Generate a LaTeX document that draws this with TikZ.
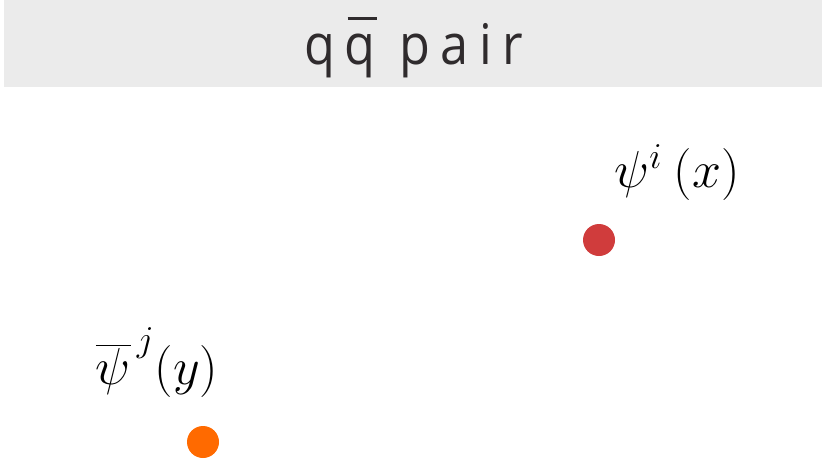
\RequirePackage{fix-cm}
\documentclass[tikz,border=0pt]{standalone}
\usepackage{fontspec}
\usepackage{xcolor}
\usetikzlibrary{positioning}
\newfontfamily\titlefont[FakeStretch=0.90,LetterSpace=19]{Open Sans}
\definecolor{barfill}{HTML}{EBEBEB}
\definecolor{titletext}{HTML}{2F2B2D}
\definecolor{quarkred}{HTML}{D03C3C}
\definecolor{quarkorange}{HTML}{FF6A00}
\newcommand\barredq{\leavevmode\kern4.5pt\rlap{\kern1.5pt\raisebox{22.5pt}{\rule{14.5pt}{1.5pt}}}q}

\begin{document}
\begin{tikzpicture}[x=0.5pt,y=-0.5pt,
  quark/.style={circle,inner sep=0pt,minimum size=16pt},
  field/.style={anchor=base,inner sep=0pt,font=\fontsize{26}{30}\selectfont}]
  \useasboundingbox (0,0) rectangle (822,460);
  % title bar
  \fill[barfill] (4,0) rectangle (822,87);
  \node[anchor=base,inner sep=0pt,text=titletext,font=\titlefont\fontsize{28}{32}\selectfont] (title) at (414,65) {q\barredq{} pair};
  % quark and antiquark
  \node[quark,fill=quarkred] (q) at (599,240) {};
  \node[quark,fill=quarkorange] (qbar) at (203,442) {};
  \node[field] (qlabel) at (677,187) {$\psi^i\mskip4mu(x)$};
  \node[field] (qbarlabel) at (157,384) {$\overline{\psi}^{\,\raisebox{3pt}{$\scriptstyle j$}}(y)$};
\end{tikzpicture}
\end{document}
